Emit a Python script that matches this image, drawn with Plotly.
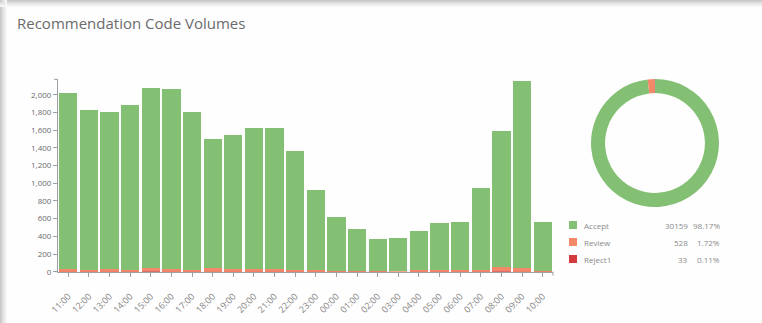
import plotly.graph_objects as go

W, H = 762, 323

hours = ["11:00", "12:00", "13:00", "14:00", "15:00", "16:00", "17:00", "18:00",
         "19:00", "20:00", "21:00", "22:00", "23:00", "00:00", "01:00", "02:00",
         "03:00", "04:00", "05:00", "06:00", "07:00", "08:00", "09:00", "10:00"]
accept = [1995, 1804, 1781, 1871, 2034, 2035, 1779, 1461, 1518, 1588, 1598, 1346,
          903, 608, 467, 360, 372, 447, 527, 541, 921, 1545, 2114, 544]
review = [25, 20, 25, 15, 40, 25, 20, 40, 25, 30, 25, 20,
          15, 12, 10, 8, 8, 15, 18, 15, 20, 45, 40, 12]
reject = [2, 1, 2, 1, 3, 2, 1, 2, 1, 2, 1, 1,
          1, 1, 1, 1, 0, 1, 1, 1, 1, 3, 2, 1]
series_names = ["Accept", "Review", "Reject1"]
colors = ["#84c074", "#f4896a", "#d23a3c"]

def px(x):
    return x / W

def py(y):
    return 1 - y / H

fig = go.Figure()
# stacked bars: Reject1, Review at bottom, Accept on top
for name, vals, col in [("Reject1", reject, colors[2]), ("Review", review, colors[1]), ("Accept", accept, colors[0])]:
    fig.add_trace(go.Bar(x=hours, y=vals, name=name, marker=dict(color=col, line=dict(width=0)),
                         showlegend=False))

totals = [sum(accept), sum(review), sum(reject)]
grand = sum(totals)

fig.add_trace(go.Pie(labels=series_names, values=totals, hole=0.78, sort=False,
                     direction="clockwise", rotation=0,
                     marker=dict(colors=colors, line=dict(width=0)),
                     textinfo="none", hoverinfo="label+value+percent", showlegend=False,
                     domain=dict(x=[px(591), px(719)], y=[py(207), py(79)])))

shapes = []
# card shadow (top and left)
greys = ["#c8c8c8", "#d2d2d2", "#dcdcdc", "#e4e4e4", "#ebebeb", "#f2f2f2", "#f8f8f8"]
for i, g in enumerate(greys):
    shapes.append(dict(type="rect", xref="paper", yref="paper", x0=0, x1=1,
                       y0=py(i + 1), y1=py(i), line=dict(width=0), fillcolor=g, layer="below"))
    shapes.append(dict(type="rect", xref="paper", yref="paper", x0=px(i), x1=px(i + 1),
                       y0=0, y1=1, line=dict(width=0), fillcolor=g, layer="below"))

# outer domain ticks at the axis ends
shapes.append(dict(type="line", xref="paper", yref="paper", x0=px(54), x1=px(58),
                   y0=py(79.3), y1=py(79.3), line=dict(color="#a0a0a0", width=1)))
shapes.append(dict(type="line", xref="paper", yref="paper", x0=px(553), x1=px(553),
                   y0=py(271.7), y1=py(275.7), line=dict(color="#a0a0a0", width=1)))

annotations = [dict(text="Recommendation Code Volumes", x=px(15), y=py(23), xref="paper", yref="paper",
                    xanchor="left", yanchor="middle", showarrow=False,
                    font=dict(family="Open Sans", size=15, color="#6b6b6b"))]

legend_y = [225, 242, 259]
for name, tot, col, ly in zip(series_names, totals, colors, legend_y):
    shapes.append(dict(type="rect", xref="paper", yref="paper", x0=px(569), x1=px(577),
                       y0=py(ly + 4), y1=py(ly - 4), fillcolor=col, line=dict(width=0)))
    annotations.append(dict(text=name, x=px(582), y=py(ly), xref="paper", yref="paper",
                            xanchor="left", yanchor="middle", showarrow=False,
                            font=dict(family="Open Sans", size=8, color="#8a8a8a")))
    annotations.append(dict(text=str(tot), x=px(690), y=py(ly), xref="paper", yref="paper",
                            xanchor="right", yanchor="middle", showarrow=False,
                            font=dict(family="Open Sans", size=8, color="#8a8a8a")))
    annotations.append(dict(text=f"{tot / grand * 100:.2f}%", x=px(722), y=py(ly), xref="paper", yref="paper",
                            xanchor="right", yanchor="middle", showarrow=False,
                            font=dict(family="Open Sans", size=8, color="#8a8a8a")))

fig.update_layout(
    width=W, height=H, margin=dict(l=0, r=0, t=0, b=0, autoexpand=False),
    paper_bgcolor="#fefefe", plot_bgcolor="rgba(0,0,0,0)",
    barmode="stack", bargap=0.12,
    shapes=shapes, annotations=annotations,
    xaxis=dict(domain=[px(58), px(553)], showgrid=False, showline=True, linecolor="#a0a0a0",
               ticks="outside", ticklen=4, tickcolor="#a0a0a0", tickangle=-45, automargin=False,
               ticklabelstandoff=11,
               tickfont=dict(family="Open Sans", size=9, color="#858585"), anchor="y", fixedrange=True),
    yaxis=dict(domain=[py(271.7), py(79.3)], range=[0, 2175], showgrid=False, zeroline=False,
               showline=True, linecolor="#a0a0a0", ticks="outside", ticklen=4, tickcolor="#a0a0a0",
               tickvals=list(range(0, 2001, 200)), tickformat=",d", automargin=False,
               tickfont=dict(family="Open Sans", size=8, color="#6b6b6b"), anchor="x", fixedrange=True),
)

fig.write_html("out.html")
